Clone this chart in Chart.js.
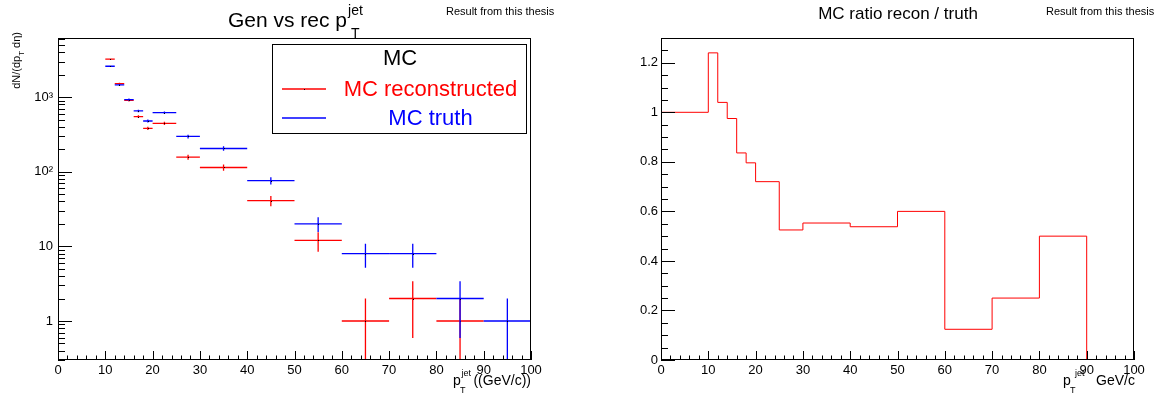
<!DOCTYPE html>
<html>
<head>
<meta charset="utf-8">
<script src="https://cdn.jsdelivr.net/npm/chart.js@4.4.0/dist/chart.umd.min.js"></script>
<style>
  html, body { margin: 0; padding: 0; background: #fff; }
  #wrap { position: relative; width: 1159px; height: 401px; }
  canvas { position: absolute; top: 0; }
  #left { left: 0; }
  #right { left: 580px; }
</style>
</head>
<body>
<div id="wrap">
  <canvas id="left" width="580" height="401"></canvas>
  <canvas id="right" width="579" height="401"></canvas>
</div>
<script>
// jet spectrum bins (GeV/c)
const specLow  = [10, 12, 14, 16, 18, 20, 25, 30, 40, 50, 60, 70, 80, 90];
const specHigh = [12, 14, 16, 18, 20, 25, 30, 40, 50, 60, 70, 80, 90, 100];
const recoVals  = [3222, 1518, 905, 547, 381, 445, 157, 114, 41, 12, 1, 2, 1, 0];
const recoErrs  = [57, 39, 30, 23, 19.5, 21, 12.5, 10.7, 6.4, 3.5, 1, 1.41, 1, 0];
const truthVals = [2594, 1460, 928, 653, 479, 619, 297, 205, 76, 20, 8, 8, 2, 1];
const truthErrs = [51, 38, 30.5, 25.5, 21.9, 24.9, 17.2, 14.3, 8.7, 4.47, 2.83, 2.83, 1.41, 1];

// ratio reco / truth histogram
const ratioEdges = [0, 10, 12, 14, 16, 18, 20, 25, 30, 40, 50, 60, 70, 80, 90, 100];
const ratioVals  = [1, 1.24, 1.04, 0.975, 0.836, 0.796, 0.72, 0.525, 0.553, 0.538, 0.6, 0.124, 0.25, 0.5, 0];

// axis ticks
const xTicks = [0, 10, 20, 30, 40, 50, 60, 70, 80, 90, 100];
const logTicks = [1, 10, 100, 1000];
const logTickLabels = ['1', '10', '10²', '10³'];
const ratioTicks = [0, 0.2, 0.4, 0.6, 0.8, 1, 1.2];
const ratioTickLabels = ['0', '0.2', '0.4', '0.6', '0.8', '1', '1.2'];

const FONT = "'Liberation Sans', Arial, Helvetica, sans-serif";
Chart.defaults.font.family = FONT;
Chart.defaults.font.size = 13;
Chart.defaults.color = '#000';

function txt(ctx, s, x, y, size, color, align) {
    ctx.font = size + 'px ' + FONT;
    ctx.fillStyle = color || '#000';
    ctx.textAlign = align || 'left';
    ctx.textBaseline = 'alphabetic';
    ctx.fillText(s, x, y);
    return ctx.measureText(s).width;
}

// ROOT-like frame with ticks pointing inwards
const rootFrame = {
    id: 'rootFrame',
    afterDraw(chart, args, opts) {
        const {ctx, chartArea: a, scales: {x, y}} = chart;
        ctx.save();
        ctx.strokeStyle = '#000';
        ctx.lineWidth = 1;
        ctx.strokeRect(Math.round(a.left) + 0.5, Math.round(a.top) + 0.5,
            Math.round(a.right - a.left) - 1, Math.round(a.bottom - a.top) - 1);
        ctx.beginPath();
        for (let v = 0; v <= 100; v += 2) {
            const px = Math.round(x.getPixelForValue(v)) + 0.5;
            const len = v % 10 === 0 ? 9 : 4.5;
            ctx.moveTo(px, a.bottom);
            ctx.lineTo(px, a.bottom - len);
        }
        opts.yMinor.forEach(v => {
            if (v < y.min || v > y.max) return;
            const py = Math.round(y.getPixelForValue(v)) + 0.5;
            ctx.moveTo(a.left, py);
            ctx.lineTo(a.left + 7, py);
        });
        opts.yMajor.forEach(v => {
            const py = Math.round(y.getPixelForValue(v)) + 0.5;
            ctx.moveTo(a.left, py);
            ctx.lineTo(a.left + 14, py);
        });
        ctx.stroke();
        ctx.restore();
    }
};

// horizontal bin width + vertical stat error for each point
const errorCrosses = {
    id: 'errorCrosses',
    afterDatasetsDraw(chart) {
        const {ctx, chartArea: a, scales: {x, y}} = chart;
        ctx.save();
        ctx.beginPath();
        ctx.rect(a.left, a.top, a.right - a.left, a.bottom - a.top);
        ctx.clip();
        chart.data.datasets.forEach(ds => {
            ctx.strokeStyle = ds.borderColor;
            ctx.lineWidth = 1.3;
            ds.data.forEach((p, i) => {
                if (!(p.y > 0)) return;
                const yc = y.getPixelForValue(p.y);
                const xl = x.getPixelForValue(ds.lo[i]);
                const xr = x.getPixelForValue(ds.hi[i]);
                const xc = x.getPixelForValue(p.x);
                const lowV = p.y - ds.err[i];
                const yTop = y.getPixelForValue(p.y + ds.err[i]);
                const yBot = lowV > 0 ? y.getPixelForValue(lowV) : a.bottom;
                ctx.beginPath();
                ctx.moveTo(xl, yc); ctx.lineTo(xr, yc);
                ctx.moveTo(xc, yTop); ctx.lineTo(xc, yBot);
                ctx.stroke();
                ctx.fillStyle = '#000';
                ctx.fillRect(Math.round(xc), Math.round(yc), 1, 1);
            });
        });
        ctx.restore();
    }
};

const leftTexts = {
    id: 'leftTexts',
    afterDraw(chart) {
        const ctx = chart.ctx;
        ctx.save();
        // title
        const w = txt(ctx, 'Gen vs rec p', 228, 26.5, 21);
        txt(ctx, 'jet', 228 + w + 1, 15, 14);
        txt(ctx, 'T', 228 + w + 4, 37.5, 14);
        txt(ctx, 'Result from this thesis', 446, 15, 11);

        // legend
        ctx.strokeStyle = '#000';
        ctx.lineWidth = 1;
        ctx.strokeRect(272.5, 44.5, 254, 89);
        txt(ctx, 'MC', 400, 65, 22, '#000', 'center');
        ctx.lineWidth = 1.3;
        ctx.beginPath();
        ctx.strokeStyle = 'rgb(255,0,0)';
        ctx.moveTo(282, 89); ctx.lineTo(326, 89);
        ctx.stroke();
        ctx.fillStyle = '#000';
        ctx.fillRect(304, 89, 1, 1);
        txt(ctx, 'MC reconstructed', 430.5, 96, 22, 'rgb(255,0,0)', 'center');
        ctx.beginPath();
        ctx.strokeStyle = 'rgb(0,0,255)';
        ctx.moveTo(282, 118); ctx.lineTo(326, 118);
        ctx.stroke();
        txt(ctx, 'MC truth', 430.5, 125, 22, 'rgb(0,0,255)', 'center');

        // x title
        txt(ctx, 'p', 453, 385, 14);
        txt(ctx, 'jet', 461.5, 376, 9);
        txt(ctx, 'T', 460, 393, 9);
        txt(ctx, '((GeV/c))', 531, 385, 14, '#000', 'right');

        // y title, rotated, ending at top of frame
        ctx.translate(20, 32);
        ctx.rotate(-Math.PI / 2);
        ctx.font = '11px ' + FONT;
        const w1 = ctx.measureText('dN/(dp').width;
        const w3 = ctx.measureText(' d\u03b7)').width;
        ctx.font = '8px ' + FONT;
        const w2 = ctx.measureText('T').width;
        let cx = -(w1 + w2 + w3);
        txt(ctx, 'dN/(dp', cx, 0, 11);
        cx += w1;
        txt(ctx, 'T', cx, 3.5, 8);
        cx += w2;
        txt(ctx, ' d\u03b7)', cx, 0, 11);
        ctx.restore();
    }
};

const rightTexts = {
    id: 'rightTexts',
    afterDraw(chart) {
        const ctx = chart.ctx;
        ctx.save();
        txt(ctx, 'MC ratio recon / truth', 318, 18.5, 17, '#000', 'center');
        txt(ctx, 'Result from this thesis', 466, 15, 11);
        txt(ctx, 'p', 483, 385, 14);
        txt(ctx, 'T', 490, 393, 9);
        txt(ctx, 'jet', 495, 376, 9);
        txt(ctx, 'GeV/c', 555, 385, 14, '#000', 'right');
        ctx.restore();
    }
};

const logMinor = [];
[0.1, 1, 10, 100, 1000].forEach(d => {
    for (let m = 2; m <= 9; m++) logMinor.push(m * d);
});
const ratioMinor = [];
for (let k = 0; k <= 26; k++) ratioMinor.push(k * 0.05);

const xAxis = {
    type: 'linear',
    min: 0,
    max: 100,
    grid: { display: false, drawTicks: false },
    border: { display: false },
    afterBuildTicks: s => { s.ticks = xTicks.map(v => ({ value: v })); },
    afterFit: s => { s.height = 41; },
    ticks: { padding: 3, maxRotation: 0, autoSkip: false, color: '#000', callback: v => String(v) }
};

new Chart(document.getElementById('left'), {
    type: 'scatter',
    data: {
        datasets: [
            {
                label: 'MC reconstructed',
                data: specLow.map((lo, i) => ({ x: (lo + specHigh[i]) / 2, y: recoVals[i] })),
                lo: specLow, hi: specHigh, err: recoErrs,
                borderColor: 'rgb(255,0,0)',
                pointRadius: 0
            },
            {
                label: 'MC truth',
                data: specLow.map((lo, i) => ({ x: (lo + specHigh[i]) / 2, y: truthVals[i] })),
                lo: specLow, hi: specHigh, err: truthErrs,
                borderColor: 'rgb(0,0,255)',
                pointRadius: 0
            }
        ]
    },
    options: {
        responsive: false,
        animation: false,
        events: [],
        layout: { padding: { left: 0, right: 49, top: 38, bottom: 0 } },
        plugins: {
            legend: { display: false },
            tooltip: { enabled: false },
            rootFrame: { yMajor: logTicks, yMinor: logMinor }
        },
        scales: {
            x: xAxis,
            y: {
                type: 'logarithmic',
                min: 0.3,
                max: 6200,
                grid: { display: false, drawTicks: false },
                border: { display: false },
                afterBuildTicks: s => { s.ticks = logTicks.map(v => ({ value: v })); },
                afterFit: s => { s.width = 58; },
                ticks: { padding: 5, color: '#000', callback: (v, i) => logTickLabels[i] }
            }
        }
    },
    plugins: [errorCrosses, rootFrame, leftTexts]
});

new Chart(document.getElementById('right'), {
    type: 'line',
    data: {
        datasets: [{
            label: 'ratio',
            data: ratioEdges.map((e, i) => ({ x: e, y: ratioVals[Math.min(i, ratioVals.length - 1)] })),
            borderColor: 'rgb(255,0,0)',
            borderWidth: 1,
            pointRadius: 0,
            fill: false,
            stepped: 'before'
        }]
    },
    options: {
        responsive: false,
        animation: false,
        events: [],
        layout: { padding: { left: 0, right: 25, top: 38, bottom: 0 } },
        plugins: {
            legend: { display: false },
            tooltip: { enabled: false },
            rootFrame: { yMajor: ratioTicks, yMinor: ratioMinor }
        },
        scales: {
            x: xAxis,
            y: {
                type: 'linear',
                min: 0,
                max: 1.3,
                grid: { display: false, drawTicks: false },
                border: { display: false },
                afterBuildTicks: s => { s.ticks = ratioTicks.map(v => ({ value: v })); },
                afterFit: s => { s.width = 81; },
                ticks: { padding: 3, color: '#000', callback: (v, i) => ratioTickLabels[i] }
            }
        }
    },
    plugins: [rootFrame, rightTexts]
});
</script>
</body>
</html>
